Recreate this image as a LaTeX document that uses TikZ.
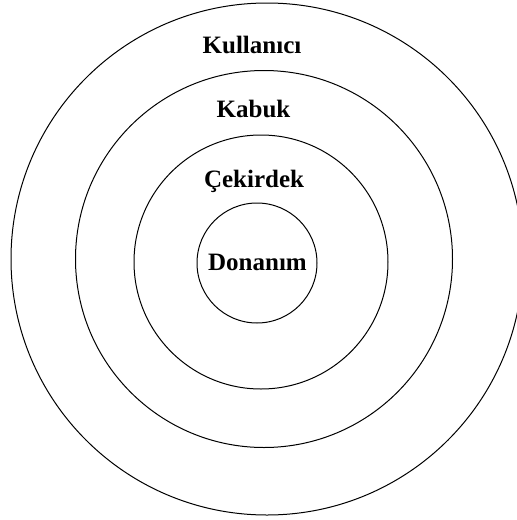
\documentclass[tikz,border=0pt]{standalone}
\usepackage{fontspec}
\setmainfont{Liberation Serif}
\begin{document}
\begin{tikzpicture}[x=1pt,y=-1pt,line cap=round,line join=round]
\tikzset{
  ring/.style={line width=1pt},
  layer/.style={anchor=base,inner sep=0pt,font=\fontsize{25}{29}\selectfont\bfseries}
}
\useasboundingbox (0,0) rectangle (517,520);
\clip (0,0) rectangle (517,520);

\draw[ring] (267,259) circle (256pt);
\draw[ring] (264,259) circle (188.5pt);
\draw[ring] (261,262) circle (127pt);
\draw[ring] (257,263) circle (60pt);

\node[layer] (kullanici) at (252,53) {Kullanıcı};
\node[layer] (kabuk) at (253.5,117) {Kabuk};
\node[layer] (cekirdek) at (254,187) {Çekirdek};
\node[layer] (donanim) at (257.5,270) {Donanım};
\end{tikzpicture}
\end{document}
